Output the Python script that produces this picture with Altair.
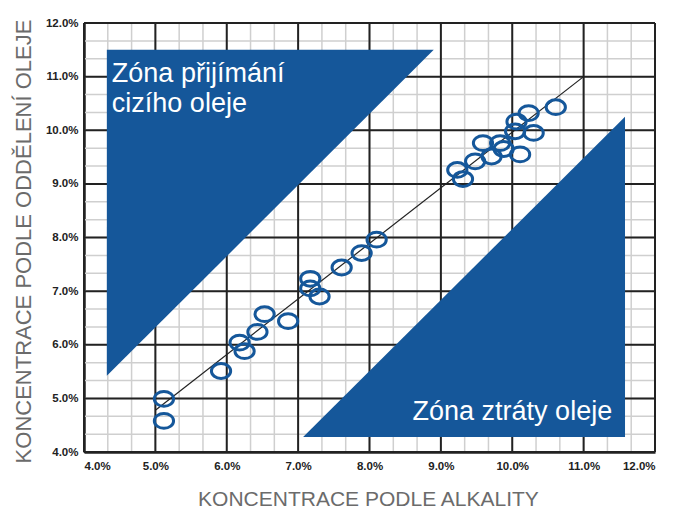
import altair as alt
import pandas as pd

# ---- data (percent values) ----
alk = [5.12, 5.12, 5.92, 6.18, 6.25, 6.43, 6.53, 6.86, 7.17, 7.17, 7.30, 7.61, 7.89, 8.10,
       9.23, 9.31, 9.48, 9.59, 9.71, 9.83, 9.88, 10.06, 10.04, 10.11, 10.30, 10.23, 10.61]
sep = [4.99, 4.58, 5.51, 6.04, 5.88, 6.24, 6.57, 6.44, 7.23, 7.05, 6.90, 7.44, 7.71, 7.96,
       9.26, 9.09, 9.42, 9.76, 9.51, 9.76, 9.65, 10.16, 9.98, 9.55, 9.95, 10.32, 10.43]

ticks = [4, 5, 6, 7, 8, 9, 10, 11, 12]
minor = [4 + i / 3 for i in range(25)]

diag_x = [5.0, 11.0]
diag_y = [4.78, 11.0]

# upper-left zone triangle (area between y and y2)
tri1_x = [4.32, 8.90]
tri1_y = [11.50, 11.50]
tri1_y2 = [5.42, 11.50]
# lower-right zone triangle
tri2_x = [7.07, 11.58]
tri2_y = [4.28, 4.28]
tri2_y2 = [4.28, 10.25]

labels_left = ["Zóna přijímání", "cizího oleje"]
labels_left_x = [4.39, 4.39]
labels_left_y = [10.90, 10.34]
label_right = ["Zóna ztráty oleje"]
label_right_x = [11.40]
label_right_y = [4.60]

BLUE = "#15579a"
DARK = "#222222"
FONT = "Liberation Sans"

xscale = alt.Scale(domain=[4, 12], nice=False, zero=False)
yscale = alt.Scale(domain=[4, 12], nice=False, zero=False)

xaxis = alt.Axis(
    title="KONCENTRACE PODLE ALKALITY", values=ticks, grid=False, ticks=False,
    labelExpr="format(datum.value, '.1f') + '%'", labelFont=FONT, labelFontSize=11.5,
    labelFontWeight="bold", labelColor=DARK, labelPadding=8,
    domainColor=DARK, domainWidth=2.5,
    titleFont=FONT, titleFontSize=21, titleFontWeight="normal", titleColor="#6b6b6b",
    titleX=284, titleY=53, titleBaseline="alphabetic", titleAlign="center",
)
yaxis = alt.Axis(
    title="KONCENTRACE PODLE ODDĚLENÍ OLEJE", values=ticks, grid=False, ticks=False,
    labelExpr="format(datum.value, '.1f') + '%'", labelFont=FONT, labelFontSize=11.5,
    labelFontWeight="bold", labelColor=DARK, labelPadding=6,
    domainColor=DARK, domainWidth=2.5,
    titleFont=FONT, titleFontSize=22, titleFontWeight="normal", titleColor="#6b6b6b",
    titleX=-54, titleY=218, titleAngle=270, titleBaseline="alphabetic", titleAlign="center",
)


def X(f):
    return alt.X(f, type="quantitative", scale=xscale, axis=xaxis)


def Y(f):
    return alt.Y(f, type="quantitative", scale=yscale, axis=yaxis)


minor_df = pd.DataFrame({"v": minor})
major_df = pd.DataFrame({"v": ticks})

vminor = alt.Chart(minor_df).mark_rule(color="#cfcfcf", strokeWidth=1.5).encode(x=X("v"))
hminor = alt.Chart(minor_df).mark_rule(color="#cfcfcf", strokeWidth=1.5).encode(y=Y("v"))
vmajor = alt.Chart(major_df).mark_rule(color=DARK, strokeWidth=2).encode(x=X("v"))
hmajor = alt.Chart(major_df).mark_rule(color=DARK, strokeWidth=2).encode(y=Y("v"))

tri1 = alt.Chart(pd.DataFrame({"x": tri1_x, "y": tri1_y, "y2": tri1_y2})).mark_area(
    color=BLUE, opacity=1).encode(x=X("x"), y=Y("y"), y2="y2")
tri2 = alt.Chart(pd.DataFrame({"x": tri2_x, "y": tri2_y, "y2": tri2_y2})).mark_area(
    color=BLUE, opacity=1).encode(x=X("x"), y=Y("y"), y2="y2")

diag = alt.Chart(pd.DataFrame({"x": diag_x, "y": diag_y})).mark_line(
    color=DARK, strokeWidth=1.2).encode(x=X("x"), y=Y("y"))

ellipse = "M -1 0 A 1 0.77 0 1 1 1 0 A 1 0.77 0 1 1 -1 0 Z"
pts = alt.Chart(pd.DataFrame({"x": alk, "y": sep})).mark_point(
    shape=ellipse, filled=False, size=370, strokeWidth=3, color=BLUE, opacity=1
).encode(x=X("x"), y=Y("y"))

txt1 = alt.Chart(pd.DataFrame({"x": labels_left_x, "y": labels_left_y, "t": labels_left})).mark_text(
    font=FONT, fontSize=27, color="white", align="left", baseline="alphabetic"
).encode(x=X("x"), y=Y("y"), text="t:N")
txt2 = alt.Chart(pd.DataFrame({"x": label_right_x, "y": label_right_y, "t": label_right})).mark_text(
    font=FONT, fontSize=27, color="white", align="right", baseline="alphabetic"
).encode(x=X("x"), y=Y("y"), text="t:N")

chart = alt.layer(vminor, hminor, vmajor, hmajor, tri1, tri2, diag, pts, txt1, txt2).properties(
    width=571, height=429,
    autosize=alt.AutoSizeParams(type="none"),
    padding={"left": 76, "top": 15, "right": 10, "bottom": 60},
).configure_view(stroke=DARK, strokeWidth=2.5).configure(background="white")

chart.save("out.html", embed_options={"renderer": "svg", "actions": False})
